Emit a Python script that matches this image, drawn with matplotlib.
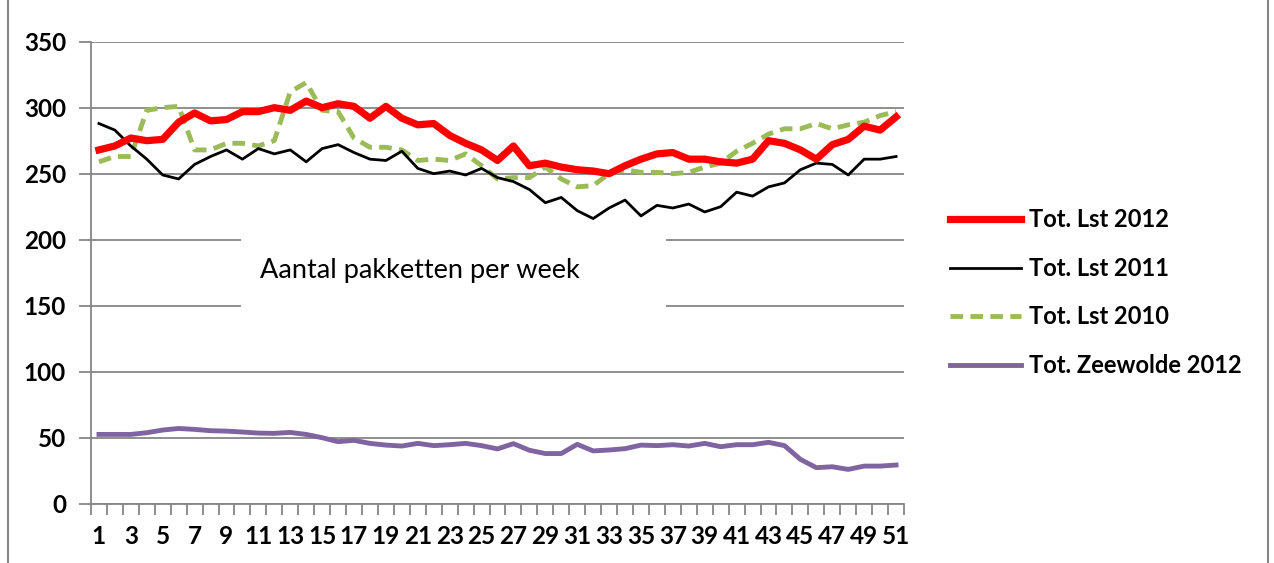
import matplotlib
matplotlib.use("Agg")
import matplotlib.pyplot as plt
from matplotlib.patches import Rectangle
from matplotlib.lines import Line2D
import numpy as np

weken = np.arange(1, 52)

lst_2012 = [268, 271, 277, 275, 276, 289, 296, 290, 291, 297, 297, 300, 298, 305, 300,
            303, 301, 292, 301, 292, 287, 288, 279, 273, 268, 260, 271, 256, 258, 255,
            253, 252, 250, 256, 261, 265, 266, 261, 261, 259, 258, 261, 275, 273, 268,
            261, 272, 276, 286, 283, 293]
lst_2011 = [288, 283, 271, 261, 249, 246, 257, 263, 268, 261, 269, 265, 268, 259, 269,
            272, 266, 261, 260, 267, 254, 250, 252, 249, 254, 247, 244, 238, 228, 232,
            222, 216, 224, 230, 218, 226, 224, 227, 221, 225, 236, 233, 240, 243, 253,
            258, 257, 249, 261, 261, 263]
lst_2010 = [259, 263, 263, 298, 300, 301, 268, 268, 273, 273, 271, 275, 312, 319, 298,
            297, 277, 270, 270, 268, 260, 261, 260, 265, 256, 246, 247, 247, 255, 246,
            240, 241, 250, 253, 251, 251, 250, 251, 255, 258, 267, 273, 280, 284, 284,
            288, 284, 287, 289, 294, 297]
zeewolde_2012 = [52.5, 52.5, 52.5, 53.8, 55.8, 57, 56.3, 55.3, 55, 54.3, 53.5, 53.3, 54,
                 52.5, 50, 47, 48, 45.7, 44.4, 43.7, 45.7, 44, 44.7, 45.7, 44, 41.5, 45.5,
                 40.5, 38, 38, 45, 40, 40.7, 41.7, 44.4, 44, 44.7, 43.7, 45.7, 43.2, 44.7,
                 44.7, 46.5, 44, 33.6, 27.3, 28, 26, 28.5, 28.5, 29.3]

labels = ["Tot. Lst 2012", "Tot. Lst 2011", "Tot. Lst 2010", "Tot. Zeewolde 2012"]

plt.rcParams['font.family'] = ['Lato', 'DejaVu Sans']
grijs = '#868686'

fig = plt.figure(figsize=(12.74, 5.63), dpi=100)
ax = fig.add_axes([0.0714, 0.1053, 0.6382, 0.8207])

ax.plot(weken, lst_2012, color='#FF0000', lw=5.2, solid_joinstyle='round', zorder=5)
ax.plot(weken, lst_2011, color='black', lw=2, zorder=4)
ax.plot(weken, lst_2010, color='#9BBB59', lw=3.5, dashes=(2.6, 1.5), zorder=3)
ax.plot(weken, zeewolde_2012, color='#8064A2', lw=3.5, solid_joinstyle='round', zorder=3)

ax.set_xlim(0.5, 51.5)
ax.set_ylim(0, 350)
ax.set_yticks(np.arange(0, 351, 50))
ax.grid(axis='y', color=grijs, lw=1.3)
ax.set_axisbelow(True)

# tick marks between categories, labels on odd weeks
ax.set_xticks(np.arange(0.5, 52, 1))
ax.set_xticklabels([])
ax.set_xticks(weken[::2], minor=True)
ax.set_xticklabels([str(w) for w in weken[::2]], minor=True)
ax.tick_params(axis='x', which='major', length=8, width=1.3, color=grijs)
ax.tick_params(axis='x', which='minor', length=0, pad=15, labelsize=17.5)
ax.tick_params(axis='y', length=9, width=1.3, color=grijs, pad=9, labelsize=17.5)
for lab in ax.get_xticklabels(minor=True) + ax.get_yticklabels():
    lab.set_fontweight('bold')

for s in ['top', 'right']:
    ax.spines[s].set_visible(False)
for s in ['left', 'bottom']:
    ax.spines[s].set_color(grijs)
    ax.spines[s].set_linewidth(1.3)

# witte tekstvak over de rasterlijnen
ax.add_patch(Rectangle((0.189, 0.4547), 0.334, 0.124, transform=fig.transFigure,
                       facecolor='white', edgecolor='none', zorder=1.5, clip_on=False))
fig.text(0.204, 0.5204, "Aantal pakketten per week", fontsize=19.5, va='center', ha='left')

handles = [Line2D([], [], color='#FF0000', lw=5.2),
           Line2D([], [], color='black', lw=2),
           Line2D([], [], color='#9BBB59', lw=3.5, dashes=(2.6, 1.5)),
           Line2D([], [], color='#8064A2', lw=3.5)]
leg = fig.legend(handles, labels, loc='upper left', bbox_to_anchor=(0.7457, 0.630),
                 frameon=False, borderpad=0, borderaxespad=0, handlelength=3.0,
                 handletextpad=0.35, labelspacing=1.08, prop={'size': 17, 'weight': 'bold'})

# rand van het kader
fig.add_artist(Line2D([0.0063, 0.0063], [0, 1], color=grijs, lw=1.5))
fig.add_artist(Line2D([0.9953, 0.9953], [0, 1], color=grijs, lw=1.5))

fig.savefig("out.png", dpi=100)
